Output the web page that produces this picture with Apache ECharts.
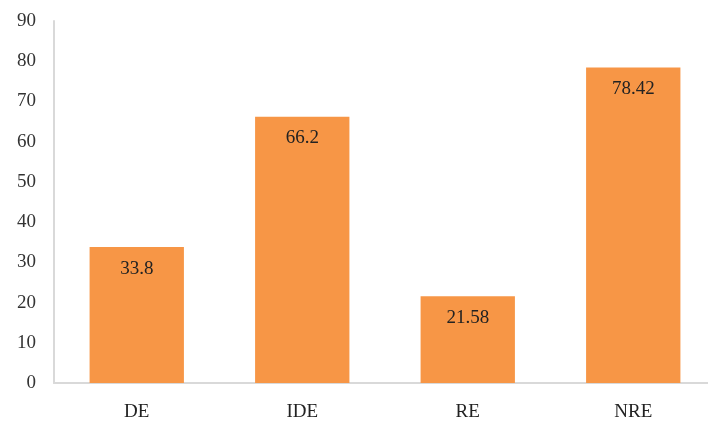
<!DOCTYPE html>
<html>
<head>
<meta charset="utf-8">
<script src="https://cdn.jsdelivr.net/npm/echarts@6/dist/echarts.min.js"></script>
<style>html,body{margin:0;padding:0;background:#fff}#c{width:708px;height:423px}</style>
</head>
<body>
<div id="c"></div>
<script>
const categories = ['DE', 'IDE', 'RE', 'NRE'];
const values = [33.8, 66.2, 21.58, 78.42];
const yTicks = [0, 10, 20, 30, 40, 50, 60, 70, 80, 90];

const chart = echarts.init(document.getElementById('c'), null, {renderer: 'canvas'});
const font = '"Liberation Serif", "Times New Roman", serif';
chart.setOption({
  animation: false,
  grid: {left: 54, width: 662, top: 21, height: 362, containLabel: false, outerBoundsMode: 'none'},
  xAxis: {
    type: 'category',
    data: categories,
    axisLine: {lineStyle: {color: '#d9d9d9', width: 2}},
    axisTick: {show: false},
    axisLabel: {color: '#222', fontFamily: font, fontSize: 19, margin: 20}
  },
  yAxis: {
    type: 'value',
    min: yTicks[0], max: yTicks[yTicks.length - 1], interval: 10,
    axisLine: {show: true, lineStyle: {color: '#d9d9d9', width: 2}},
    axisTick: {show: false},
    splitLine: {show: false},
    axisLabel: {color: '#333', fontFamily: font, fontSize: 19, margin: 18}
  },
  series: [{
    type: 'bar',
    data: values,
    barWidth: '57%',
    itemStyle: {color: '#F79646'},
    label: {show: true, position: 'insideTop', distance: 12, color: '#222', fontFamily: font, fontSize: 19}
  }]
});
</script>
</body>
</html>
